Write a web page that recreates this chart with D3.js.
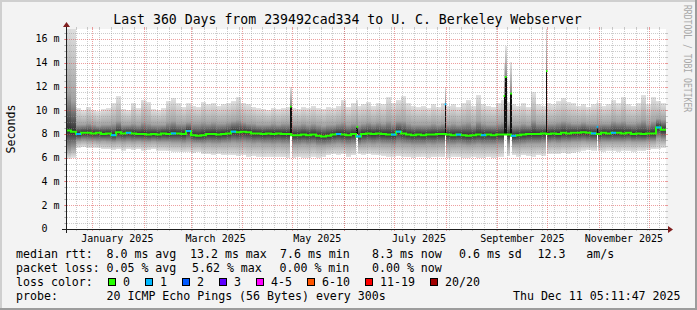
<!DOCTYPE html>
<html>
<head>
<meta charset="utf-8">
<script src="https://cdn.jsdelivr.net/npm/d3@7"></script>
<style>
  html, body { margin: 0; padding: 0; background: #f3f3f3; }
  svg { display: block; font-family: "DejaVu Sans Mono", monospace; }
</style>
</head>
<body>
<div id="chart"></div>
<script>
// time window of the graph (360 days, 3-day consolidation steps)
const startTime = new Date(Date.UTC(2024, 11, 16, 5, 11, 47));
const endTime = new Date(Date.UTC(2025, 11, 11, 5, 11, 47));
const stepDays = 3;

// median rtt per step (ms)
const rttMedian = [
  8.30, 8.20, 8.00, 8.10, 8.10, 8.05, 8.10, 8.00, 8.05, 7.90,
  8.15, 8.05, 8.10, 8.05, 8.00, 8.00, 7.95, 8.00, 7.95, 8.05,
  8.00, 8.05, 8.05, 8.00, 8.25, 7.90, 7.85, 7.90, 8.00, 8.00,
  7.95, 8.00, 8.05, 8.20, 8.15, 8.20, 8.15, 8.05, 8.05, 8.00,
  8.05, 8.00, 8.05, 8.00, 8.00, 7.90, 7.90, 7.95, 7.90, 7.95,
  7.85, 7.80, 7.85, 7.95, 8.00, 7.95, 7.90, 8.00, 7.80, 8.00,
  8.05, 8.00, 8.05, 8.00, 7.95, 7.95, 8.20, 8.05, 7.95, 7.90,
  7.95, 7.90, 7.95, 7.95, 8.00, 8.00, 7.95, 7.90, 7.95, 7.90,
  7.85, 7.90, 7.95, 7.90, 7.95, 7.90, 7.95, 7.95, 7.95, 7.85,
  7.90, 7.95, 8.00, 8.00, 8.00, 8.05, 8.00, 8.05, 8.00, 8.10,
  8.05, 8.10, 8.10, 8.15, 8.10, 8.05, 8.00, 8.10, 8.05, 8.10,
  8.10, 8.05, 8.10, 8.00, 8.05, 8.00, 8.05, 8.05, 8.55, 8.35
];
// lost pings per step (out of 20)
const lossCount = [
  0, 0, 1, 0, 0, 0, 0, 0, 0, 1,
  0, 0, 1, 0, 0, 0, 0, 0, 0, 0,
  0, 1, 0, 0, 1, 0, 0, 0, 0, 0,
  0, 0, 0, 1, 0, 0, 0, 0, 0, 0,
  0, 0, 0, 0, 0, 0, 0, 0, 0, 0,
  0, 0, 0, 0, 1, 0, 0, 0, 1, 0,
  0, 0, 0, 0, 0, 1, 1, 0, 0, 0,
  0, 0, 0, 0, 0, 0, 0, 0, 1, 0,
  0, 0, 0, 1, 0, 0, 0, 0, 0, 1,
  0, 0, 0, 0, 0, 0, 0, 0, 0, 0,
  0, 0, 0, 0, 0, 1, 0, 0, 0, 1,
  0, 0, 0, 0, 0, 0, 0, 0, 1, 0
];
// slowest ping per step (top of the smoke)
const rttMax = [
  17.5, 17.2, 10.2, 10.0, 10.3, 10.0, 9.9, 10.1, 10.2, 10.6,
  11.2, 10.1, 10.0, 10.6, 10.2, 10.9, 10.7, 10.1, 10.0, 10.2,
  10.8, 11.0, 10.6, 10.3, 10.6, 10.4, 10.3, 10.7, 10.5, 10.6,
  10.4, 10.5, 10.6, 10.8, 11.1, 10.6, 10.5, 10.3, 10.2, 10.1,
  10.0, 10.2, 10.1, 10.2, 10.3, 10.2, 10.1, 10.3, 10.2, 10.4,
  10.2, 10.1, 10.3, 10.2, 10.4, 10.9, 10.3, 10.6, 10.4, 10.5,
  10.7, 10.4, 10.6, 10.5, 11.1, 10.6, 10.9, 11.2, 10.6, 10.4,
  10.3, 10.4, 10.2, 10.5, 10.3, 10.6, 10.4, 10.5, 10.3, 10.6,
  10.9, 10.4, 11.3, 10.5, 10.4, 10.3, 10.6, 10.9, 10.7, 10.5,
  10.4, 10.6, 10.3, 11.5, 10.5, 10.4, 10.6, 10.5, 10.8, 11.0,
  10.7, 10.6, 10.4, 10.5, 10.3, 10.5, 10.6, 10.4, 10.5, 10.9,
  10.6, 11.1, 10.5, 10.4, 10.6, 11.3, 10.5, 11.1, 10.8, 10.6
];
// upper edge of the dense part of the smoke
const rttHigh = [
  11.5, 10.8, 8.8, 8.8, 8.9, 8.8, 8.7, 8.8, 8.8, 8.9,
  9.1, 8.8, 8.8, 8.9, 8.8, 9.0, 8.9, 8.8, 8.8, 8.8,
  9.0, 9.1, 8.9, 8.9, 9.0, 8.9, 8.9, 9.0, 8.9, 9.0,
  8.9, 8.9, 9.0, 9.1, 9.2, 9.0, 8.9, 8.9, 8.8, 8.8,
  8.8, 8.9, 8.8, 8.9, 8.9, 8.8, 8.8, 8.9, 8.8, 8.9,
  8.8, 8.7, 8.8, 8.8, 8.9, 9.0, 8.8, 8.9, 8.8, 8.9,
  9.0, 8.9, 9.0, 8.9, 9.1, 8.9, 9.1, 9.1, 8.9, 8.8,
  8.8, 8.8, 8.8, 8.9, 8.8, 8.9, 8.8, 8.9, 8.8, 8.9,
  9.0, 8.8, 9.1, 8.9, 8.8, 8.8, 8.9, 9.0, 8.9, 8.8,
  8.8, 8.9, 8.8, 9.2, 8.9, 8.9, 8.9, 8.9, 9.0, 9.1,
  9.0, 8.9, 8.9, 9.0, 8.9, 8.9, 8.9, 8.9, 8.9, 9.1,
  9.0, 9.1, 8.9, 8.9, 9.0, 9.2, 8.9, 9.1, 9.3, 9.2
];
// lower edge of the dense part of the smoke
const rttLow = [
  6.6, 6.8, 7.4, 7.45, 7.4, 7.4, 7.35, 7.4, 7.35, 7.3,
  7.35, 7.3, 7.35, 7.3, 7.35, 7.3, 7.3, 7.35, 7.3, 7.3,
  7.3, 7.25, 7.25, 7.2, 7.25, 7.2, 7.2, 7.15, 7.2, 7.15,
  7.15, 7.2, 7.2, 7.25, 7.2, 7.25, 7.2, 7.15, 7.2, 7.15,
  7.15, 7.1, 7.15, 7.1, 7.1, 7.05, 7.05, 7.1, 7.05, 7.1,
  7.0, 7.0, 7.05, 7.1, 7.15, 7.1, 7.05, 7.1, 7.05, 7.1,
  7.15, 7.1, 7.15, 7.1, 7.1, 7.05, 7.15, 7.1, 7.1, 7.05,
  7.05, 7.05, 7.1, 7.05, 7.1, 7.1, 7.05, 7.05, 7.1, 7.05,
  7.0, 7.05, 7.1, 7.05, 7.05, 7.05, 7.1, 7.1, 7.1, 7.05,
  7.05, 7.1, 7.15, 7.15, 7.15, 7.2, 7.2, 7.25, 7.2, 7.25,
  7.25, 7.3, 7.3, 7.35, 7.3, 7.3, 7.25, 7.3, 7.3, 7.3,
  7.3, 7.3, 7.35, 7.3, 7.3, 7.3, 7.35, 7.35, 7.6, 7.5
];
// fastest ping per step (bottom of the smoke)
const rttMin = [
  5.9, 6.0, 6.85, 6.9, 6.8, 6.85, 6.8, 6.7, 6.7, 6.65,
  6.7, 6.6, 6.7, 6.65, 6.7, 6.6, 6.65, 6.7, 6.6, 6.6,
  6.55, 6.5, 6.5, 6.45, 6.5, 6.4, 6.45, 6.3, 6.3, 6.25,
  6.3, 6.2, 6.25, 6.2, 6.15, 6.2, 6.1, 6.15, 6.1, 6.05,
  6.1, 6.05, 6.1, 6.05, 6.0, 6.0, 6.05, 6.0, 6.0, 6.1,
  6.0, 6.05, 6.2, 6.3, 6.25, 6.3, 6.1, 6.2, 6.3, 6.25,
  6.3, 6.25, 6.2, 6.15, 6.1, 6.1, 6.15, 6.1, 6.05, 6.0,
  6.05, 6.1, 6.0, 6.05, 6.1, 6.05, 6.0, 6.1, 6.05, 6.0,
  6.0, 6.05, 6.0, 6.0, 6.05, 6.0, 6.05, 6.1, 6.15, 6.2,
  6.1, 6.2, 6.15, 6.1, 6.2, 6.15, 6.3, 6.35, 6.3, 6.4,
  6.35, 6.4, 6.5, 6.6, 6.65, 6.6, 6.55, 6.5, 6.6, 6.55,
  6.5, 6.6, 6.55, 6.5, 6.6, 6.55, 6.65, 6.7, 6.75, 6.8
];

// short latency spikes
const spikeTimes = ["2025-04-29T14:00:00Z", "2025-06-08T12:00:00Z", "2025-07-31T10:00:00Z",
  "2025-09-04T18:00:00Z", "2025-09-05T12:00:00Z", "2025-09-08T18:00:00Z",
  "2025-09-30T05:00:00Z", "2025-10-30T14:00:00Z"];
const spikeDays = [1, 1, 1, 0.8, 1.1, 1.1, 0.8, 0.8];
const spikeLow = [7.95, 8.0, 7.95, 8.0, 8.0, 7.95, 8.0, 8.05];
const spikeMedian = [10.3, 8.6, 10.5, 11.2, 12.8, 11.4, 13.3, 8.6];
const spikeMax = [12.0, 10.9, 12.0, 14.0, 15.4, 14.1, 17.5, 10.9];
const spikeLoss = [0, 0, 1, 0, 0, 0, 0, 1];

const yTickValues = [0, 2, 4, 6, 8, 10, 12, 14, 16];
const yTickLabels = ["0\u00a0\u00a0", "2 m", "4 m", "6 m", "8 m", "10 m", "12 m", "14 m", "16 m"];
const xLabelDates = ["2025-01-16", "2025-03-16", "2025-05-16", "2025-07-16", "2025-09-16", "2025-11-16"];
const xLabels = ["January 2025", "March 2025", "May 2025", "July 2025", "September 2025", "November 2025"];

const lossLevels = ["0", "1", "2", "3", "4-5", "6-10", "11-19", "20/20"];
const lossColors = ["#26ff00", "#00b8ff", "#0059ff", "#5e00ff", "#ff00ff", "#ff5500", "#ff0000", "#a10000"];

const rttStats = ["median rtt:", "8.0 ms avg", "13.2 ms max", "7.6 ms min", "8.3 ms now", "0.6 ms sd", "12.3   am/s"];
const lossStats = ["packet loss:", "0.05 % avg", "5.62 % max", "0.00 % min", "0.00 % now"];
const probeInfo = ["probe:", "20 ICMP Echo Pings (56 Bytes) every 300s"];
const stamp = "Thu Dec 11 05:11:47 2025";
const title = "Last 360 Days from 239492cad334 to U. C. Berkeley Webserver";

(function () {
  const W = 697, H = 310;
  const pLeft = 66, pRight = 666, pTop = 29, pBottom = 229;
  const pre = s => s.replace(/ /g, "\u00a0");

  const x = d3.scaleUtc().domain([startTime, endTime]).range([pLeft, pRight]);
  const y = d3.scaleLinear().domain([0, 200 / 11.875]).range([pBottom, pTop]);

  const steps = rttMedian.map((m, i) => ({
    t0: d3.utcDay.offset(startTime, i * stepDays),
    t1: d3.utcDay.offset(startTime, (i + 1) * stepDays),
    med: m, max: rttMax[i], hi: rttHigh[i], lo: rttLow[i], min: rttMin[i], loss: lossCount[i]
  }));
  const spikes = spikeTimes.map((t, i) => {
    const t0 = new Date(t);
    return { t0, t1: new Date(+t0 + spikeDays[i] * 864e5), low: spikeLow[i],
      med: spikeMedian[i], max: spikeMax[i], loss: spikeLoss[i] };
  });

  const svg = d3.select("#chart").append("svg").attr("width", W).attr("height", H);

  // background with shaded frame
  svg.append("rect").attr("width", W).attr("height", H).attr("fill", "#f3f3f3");
  svg.append("rect").attr("width", W).attr("height", 2).attr("fill", "#cfcfcf");
  svg.append("rect").attr("width", 2).attr("height", H).attr("fill", "#cfcfcf");
  svg.append("rect").attr("y", H - 2).attr("width", W).attr("height", 2).attr("fill", "#9c9c9c");
  svg.append("rect").attr("x", W - 2).attr("width", 2).attr("height", H).attr("fill", "#9c9c9c");

  svg.append("rect").attr("x", pLeft).attr("y", pTop)
    .attr("width", pRight - pLeft).attr("height", pBottom - pTop).attr("fill", "#fff");

  const defs = svg.append("defs");
  defs.append("clipPath").attr("id", "plotClip").append("rect")
    .attr("x", pLeft).attr("y", pTop).attr("width", pRight - pLeft).attr("height", pBottom - pTop);

  // smoke shading: light at the extremes, dark round the median
  function smokeStops(d) {
    const t = y(d.max), span = y(d.min) - t;
    const off = v => Math.max(0, Math.min(1, (y(v) - t) / span));
    return [[0, "#e2e2e2"], [off(d.hi), "#a2a2a2"], [off(d.med), "#2e2e2e"], [off(d.lo), "#a2a2a2"], [1, "#e2e2e2"]];
  }
  defs.selectAll("linearGradient.smoke").data(steps).join("linearGradient")
    .attr("class", "smoke")
    .attr("id", (d, i) => "smoke" + i)
    .attr("x1", 0).attr("y1", 0).attr("x2", 0).attr("y2", 1)
    .selectAll("stop").data(smokeStops).join("stop")
    .attr("offset", s => s[0]).attr("stop-color", s => s[1]);

  const fade = defs.append("linearGradient").attr("id", "spikeFade")
    .attr("x1", 0).attr("y1", 0).attr("x2", 0).attr("y2", 1);
  fade.append("stop").attr("offset", 0).attr("stop-color", "#e4e4e4");
  fade.append("stop").attr("offset", 1).attr("stop-color", "#8a8a8a");

  const plot = svg.append("g").attr("clip-path", "url(#plotClip)").attr("shape-rendering", "crispEdges");

  plot.selectAll("rect.step").data(steps).join("rect")
    .attr("class", "step")
    .attr("x", d => x(d.t0))
    .attr("width", d => x(d.t1) - x(d.t0))
    .attr("y", d => y(d.max))
    .attr("height", d => y(d.min) - y(d.max))
    .attr("fill", (d, i) => `url(#smoke${i})`);

  const sw = d => Math.max(1, x(d.t1) - x(d.t0));
  const spikeG = plot.selectAll("g.spike").data(spikes).join("g").attr("class", "spike");
  spikeG.append("rect")
    .attr("x", d => x(d.t0)).attr("width", sw)
    .attr("y", d => y(d.low)).attr("height", d => y(5.6) - y(d.low))
    .attr("fill", "#fff");
  spikeG.append("rect")
    .attr("x", d => x(d.t0)).attr("width", sw)
    .attr("y", d => y(d.max)).attr("height", d => y(d.med) - y(d.max))
    .attr("fill", "url(#spikeFade)");
  spikeG.append("rect")
    .attr("x", d => x(d.t0)).attr("width", sw)
    .attr("y", d => y(d.med)).attr("height", d => y(d.low) - y(d.med))
    .attr("fill", "#111");

  // grid
  const minorCol = "rgba(143,143,143,0.45)", majorCol = "rgba(222,79,79,0.55)";
  const grid = svg.append("g").attr("shape-rendering", "crispEdges");
  const px = v => Math.round(v) + 0.5;

  const yMinor = d3.range(0.5, y.domain()[1], 0.5).filter(v => v % 2 !== 0);
  const xMinor = d3.utcSunday.range(startTime, endTime);
  const xMajor = d3.utcMonth.range(startTime, endTime);

  grid.selectAll("line.ymin").data(yMinor).join("line")
    .attr("x1", pLeft - 1).attr("x2", pRight + 1)
    .attr("y1", d => px(y(d))).attr("y2", d => px(y(d)))
    .attr("stroke", minorCol).attr("stroke-dasharray", "1,1");
  grid.selectAll("line.xmin").data(xMinor).join("line")
    .attr("x1", d => px(x(d))).attr("x2", d => px(x(d)))
    .attr("y1", pTop).attr("y2", pBottom)
    .attr("stroke", minorCol).attr("stroke-dasharray", "1,1");
  grid.selectAll("line.ymaj").data(yTickValues.slice(1)).join("line")
    .attr("x1", pLeft - 1).attr("x2", pRight + 1)
    .attr("y1", d => px(y(d))).attr("y2", d => px(y(d)))
    .attr("stroke", majorCol).attr("stroke-dasharray", "1,1");
  grid.selectAll("line.xmaj").data(xMajor).join("line")
    .attr("x1", d => px(x(d))).attr("x2", d => px(x(d)))
    .attr("y1", pTop).attr("y2", pBottom)
    .attr("stroke", majorCol).attr("stroke-dasharray", "1,1");

  // little tick marks outside the canvas
  const ticks = svg.append("g").attr("shape-rendering", "crispEdges");
  [[yMinor, minorCol], [yTickValues, majorCol]].forEach(([vals, col]) => {
    vals.forEach(v => {
      ticks.append("line").attr("x1", pLeft - 2).attr("x2", pLeft).attr("y1", px(y(v))).attr("y2", px(y(v))).attr("stroke", col);
      ticks.append("line").attr("x1", pRight).attr("x2", pRight + 2).attr("y1", px(y(v))).attr("y2", px(y(v))).attr("stroke", col);
    });
  });
  [[xMinor, minorCol], [xMajor, majorCol]].forEach(([vals, col]) => {
    vals.forEach(v => {
      ticks.append("line").attr("x1", px(x(v))).attr("x2", px(x(v))).attr("y1", pTop - 2).attr("y2", pTop).attr("stroke", col);
      ticks.append("line").attr("x1", px(x(v))).attr("x2", px(x(v))).attr("y1", pBottom).attr("y2", pBottom + 2).attr("stroke", col);
    });
  });

  // median line, coloured by loss
  const medianPts = steps.map(d => [x(d.t0), y(d.med)]);
  medianPts.push([x(endTime), y(steps[steps.length - 1].med)]);
  svg.append("path")
    .attr("d", d3.line().curve(d3.curveStepAfter)(medianPts))
    .attr("fill", "none").attr("stroke", lossColors[0]).attr("stroke-width", 2);
  svg.selectAll("line.loss").data(steps.filter(d => d.loss > 0)).join("line")
    .attr("x1", d => x(d.t0)).attr("x2", d => x(d.t1))
    .attr("y1", d => y(d.med)).attr("y2", d => y(d.med))
    .attr("stroke", d => lossColors[d.loss]).attr("stroke-width", 2);
  svg.selectAll("rect.spikeMed").data(spikes).join("rect")
    .attr("x", d => x(d.t0)).attr("width", d => Math.max(1.5, sw(d)))
    .attr("y", d => y(d.med) - 1).attr("height", 2)
    .attr("fill", d => lossColors[d.loss]);

  // axes with arrows
  svg.append("line").attr("x1", pLeft - 4).attr("x2", pRight + 4).attr("y1", pBottom + 0.5).attr("y2", pBottom + 0.5)
    .attr("stroke", "#1f1f1f").attr("shape-rendering", "crispEdges");
  svg.append("line").attr("x1", pLeft + 0.5).attr("x2", pLeft + 0.5).attr("y1", pBottom + 4).attr("y2", pTop - 4)
    .attr("stroke", "#1f1f1f").attr("shape-rendering", "crispEdges");
  svg.append("path").attr("d", `M${pRight + 2},${pBottom - 3}L${pRight + 2},${pBottom + 4}L${pRight + 7},${pBottom + 0.5}Z`).attr("fill", "#801f1f");
  svg.append("path").attr("d", `M${pLeft - 3},${pTop - 2}L${pLeft + 4},${pTop - 2}L${pLeft + 0.5},${pTop - 7}Z`).attr("fill", "#801f1f");

  // axis labels
  svg.selectAll("text.ylab").data(yTickValues).join("text")
    .attr("x", 59.5).attr("y", d => y(d) + 3.3)
    .attr("text-anchor", "end").attr("font-size", 10)
    .text((d, i) => yTickLabels[i]);
  svg.selectAll("text.xlab").data(xLabelDates).join("text")
    .attr("x", d => x(new Date(d + "T00:00:00Z"))).attr("y", 241.5)
    .attr("text-anchor", "middle").attr("font-size", 10)
    .text((d, i) => xLabels[i]);

  svg.append("text").attr("transform", "translate(14.5,129) rotate(-90)")
    .attr("text-anchor", "middle").attr("font-size", 11.6).text("Seconds");

  svg.append("text").attr("x", 347.5).attr("y", 23.5).attr("text-anchor", "middle")
    .attr("font-size", 13.2).text(title);

  svg.append("text").attr("transform", "translate(684.3,5) rotate(90) scale(1,1.25)")
    .attr("font-size", 8.1).attr("fill", "#a8a8a8").text(pre("RRDTOOL / TOBI OETIKER"));

  // legend
  const legend = svg.append("g").attr("font-size", 11.6);
  const rttX = [16, 106.5, 190, 280, 372, 459, 537.5];
  const lossX = [16, 106.5, 192, 279.5, 372];
  const rows = [257.6, 271.7, 285.8, 299.9];
  rttStats.forEach((s, i) => legend.append("text").attr("x", rttX[i]).attr("y", rows[0]).text(pre(s)));
  lossStats.forEach((s, i) => legend.append("text").attr("x", lossX[i]).attr("y", rows[1]).text(pre(s)));
  legend.append("text").attr("x", 16).attr("y", rows[2]).text("loss color:");
  let bx = 108;
  lossLevels.forEach((lv, i) => {
    legend.append("rect").attr("x", bx + 0.5).attr("y", 278.5).attr("width", 7).attr("height", 7)
      .attr("fill", lossColors[i]).attr("stroke", "#000").attr("shape-rendering", "crispEdges");
    legend.append("text").attr("x", bx + 15).attr("y", rows[2]).text(lv);
    bx += 15 + lv.length * 7 + 15;
  });
  legend.append("text").attr("x", 16).attr("y", rows[3]).text(probeInfo[0]);
  legend.append("text").attr("x", 106.5).attr("y", rows[3]).text(pre(probeInfo[1]));
  legend.append("text").attr("x", 680.5).attr("y", rows[3]).attr("text-anchor", "end").text(pre(stamp));
})();
</script>
</body>
</html>
